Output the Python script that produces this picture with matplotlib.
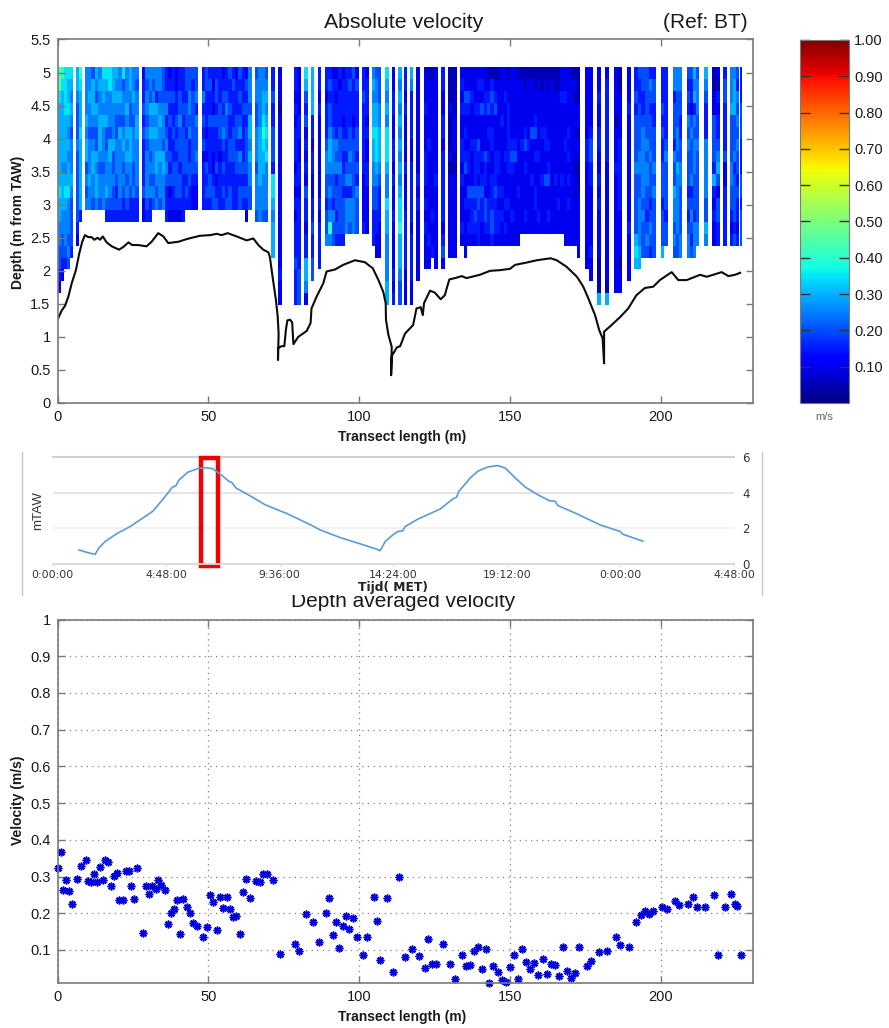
import matplotlib
matplotlib.use("Agg")
import matplotlib.pyplot as plt
import numpy as np
from matplotlib.cm import ScalarMappable
from matplotlib.colors import Normalize

plt.rcParams['font.family'] = ['Liberation Sans', 'DejaVu Sans']

W, H = 889, 1028

# ---- velocity section: runs of ensembles (start m, end m, cells top to bottom, digit x 0.05 m/s)
TOP_DEPTH = 5.08
CELL_HEIGHT = 0.18
LEVEL_STEP = 0.05
RUNS = [
 (0.0, 5.2, ["9976666666766554432", "876666665666554432", "77776666567655543", "76676565667555454", "7656545556544443"]),
 (6.1, 8.1, ["665444544444432", "8766676666663"]),
 (9.0, 26.9, ["555565664545", "556554555655", "466654566554", "654654465665", "565566654554", "766565554555",
              "7655644555643", "7755546655543", "6665556445443", "6565445554343", "5565465555543",
              "7455456545433", "5556565654543", "6654466655433", "5565455544533", "5455665555433"]),
 (28.0, 46.6, ["2334343333422", "5455454555543", "5546565454533", "545656555454", "553656566545", "554565565554",
               "444555466555", "3345345454333", "2343433434232", "3343343344332", "2233434344432", "3344544434432",
               "3334344443333", "443443444343", "445545334433", "434444444322", "445354454322"]),
 (47.8, 64.4, ["335343423333", "443332324343", "343343333443", "323243322344", "344343334234", "333444323333",
               "234345434343", "334544333334", "433433443344", "343334443333", "233344344333", "434345354344",
               "333433334343", "2434344443432", "555466565544"]),
 (65.5, 69.8, ["4554455545554", "5555566666555", "5566787665554", "4565676755554"]),
 (70.8, 72.1, ["3343344437765666"]),
 (73.1, 74.4, ["22212222222222222322"]),
 (78.3, 80.6, ["33232333232323334333", "22223322332333333444"]),
 (81.8, 82.9, ["76434232324332336652"]),
 (84.0, 85.1, ["666633233223343344"]),
 (86.3, 87.4, ["33232222222323333"]),
 (88.6, 99.8, ["332333455443445", "343445665454585", "233334555443544", "232333545344343", "323334445444443",
               "233323433434443", "33333343453555", "34333445453554", "43332344444555", "24333443435444"]),
 (100.9, 103.2, ["33433333322223", "23332322332222"]),
 (104.1, 107.3, ["565667665544333", "4556677765443322", "4445566654333222"]),
 (108.5, 109.8, ["76565777655766555566"]),
 (110.9, 112.0, ["22332233232232222323"]),
 (113.0, 114.1, ["65656565656778666544"]),
 (114.8, 115.9, ["33232222322233333222"]),
 (116.8, 117.9, ["65333322333332333322"]),
 (119.0, 120.2, ["222222222323222222"]),
 (121.4, 126.1, ["22232223332323222", "12222232222222322", "1222222222223223", "22222222232222222"]),
 (127.3, 128.3, ["33223323333332342"]),
 (129.5, 132.3, ["1112111212222222", "1111222112222222"]),
 (133.5, 173.3, ["232322332322232", "2243232342232222", "224322233243232", "223222322243332", "222322333343432",
                 "232322433244333", "232422232343322", "223322243324432", "123423232223332", "134323322333443",
                 "123422233343332", "122222233232332", "222232222232322", "223222232223232", "122333333223222",
                 "222222343222322", "222222342222222", "122222222232222", "12222232222222", "11222342322232",
                 "12222232222222", "12222422232222", "11223423223322", "12222223222232", "11222322232222",
                 "12222332242222", "11222232342232", "12222222222222", "11222222232222", "11222222222322",
                 "22322222232222", "223222322222222", "222223232323222", "122222222222222", "121222221212222",
                 "1112212111222222"]),
 (174.9, 177.6, ["22222233222222222", "222223443322222322"]),
 (178.9, 180.1, ["22322332232322221116"]),
 (181.6, 182.9, ["23333333222222222216"]),
 (184.5, 187.2, ["2222122232222222222", "1122223333332222122"]),
 (188.7, 190.1, ["222322222222232222"]),
 (191.2, 198.3, ["33434444544444676", "43344445544555566", "4433455555545444", "4444445455443454",
                 "3543444544434543", "3443344454544444"]),
 (200.0, 202.4, ["3334343344434446", "333333454444344"]),
 (203.9, 207.0, ["5534443544655454", "5544455465555544", "5544334455444455"]),
 (208.6, 212.6, ["4343545444343455", "4332454445345434", "6563545554443555", "455544544444455"]),
 (214.3, 215.6, ["654333555554465"]),
 (217.0, 219.5, ["112244443632322", "213233456424433"]),
 (220.7, 221.8, ["344333342233333"]),
 (222.9, 225.9, ["555644445544323", "566644453444434", "435454544343323"]),
 (226.3, 226.9, ["333444333443444"]),
]

# ---- bed level
BED_X = [0.2,1.4,2.5,3.6,4.7,6.1,7.2,8.2,9.1,10.2,11.3,12.2,13.3,14.1,15.0,16.3,18.0,20.4,21.8,23.5,24.8,26.8,29.5,31.2,33.4,35.1,36.7,40.1,42.8,47.2,50.6,52.8,54.4,56.4,59.4,62.7,64.9,66.6,68.2,69.9,70.4,71.3,72.4,73.0,73.3,73.1,73.1,74.3,75.2,75.7,76.2,77.1,77.8,78.2,79.8,82.6,83.9,84.2,85.9,88.1,89.2,92.0,94.7,98.6,101.9,104.5,106.4,108.0,108.8,108.9,109.7,110.8,110.6,110.8,112.5,113.6,115.2,117.9,119.0,120.4,121.1,121.5,123.5,125.1,127.0,128.4,129.0,129.9,131.8,134.0,135.6,140.0,143.4,146.7,150.0,151.7,155.0,158.9,163.5,165.5,168.8,172.2,174.3,176.0,178.2,179.6,180.7,181.2,181.2,183.7,186.5,189.2,191.9,194.7,197.5,199.7,203.6,205.8,208.6,213.0,215.2,220.2,222.4,224.6,226.3]
BED_Z = [1.28,1.40,1.47,1.61,1.81,2.01,2.26,2.44,2.54,2.51,2.51,2.47,2.50,2.47,2.52,2.43,2.37,2.32,2.36,2.43,2.39,2.39,2.37,2.44,2.57,2.52,2.42,2.44,2.48,2.53,2.54,2.56,2.54,2.57,2.52,2.46,2.49,2.39,2.32,2.28,2.21,1.91,1.56,1.31,1.05,0.65,0.83,0.86,0.86,1.10,1.25,1.26,1.22,0.89,1.00,1.09,1.21,1.43,1.61,1.81,1.99,2.02,2.09,2.16,2.13,2.04,1.86,1.68,1.51,1.26,1.03,0.85,0.42,0.71,0.84,0.86,1.05,1.18,1.43,1.45,1.33,1.51,1.70,1.67,1.57,1.63,1.73,1.87,1.89,1.92,1.89,1.94,2.00,2.01,2.03,2.09,2.12,2.16,2.19,2.16,2.06,1.91,1.76,1.58,1.33,1.10,0.98,0.60,1.08,1.18,1.30,1.43,1.63,1.74,1.76,1.86,1.98,1.86,1.86,1.94,1.91,1.98,1.92,1.94,1.97]

# ---- tide curve
TIDE_H = [1.12,1.48,1.80,1.95,2.22,2.75,3.28,3.81,4.23,4.65,5.07,5.22,5.33,5.71,6.13,6.45,6.77,7.08,7.46,7.57,7.76,8.14,8.56,8.99,9.94,10.99,11.31,12.16,13.0,13.64,13.85,14.06,14.38,14.59,14.8,14.9,15.43,16.38,16.91,17.08,17.17,17.65,17.97,18.39,18.82,19.13,19.56,19.98,20.51,21.0,21.25,21.35,22.1,23.15,24.0,24.1,24.95]
TIDE_V = [0.79,0.64,0.54,0.88,1.26,1.73,2.10,2.57,2.95,3.60,4.31,4.39,4.69,5.14,5.35,5.40,5.35,5.05,4.63,4.58,4.26,3.98,3.66,3.32,2.81,2.14,1.91,1.48,1.13,0.86,0.75,1.26,1.63,1.82,1.86,2.10,2.51,3.08,3.64,3.75,4.07,4.82,5.2,5.44,5.52,5.38,4.82,4.31,3.88,3.55,3.51,3.28,2.85,2.19,1.82,1.67,1.28]
TIDE_TICKS_H = [0, 4.8, 9.6, 14.4, 19.2, 24.0, 28.8]
TIDE_TICK_LABELS = ["0:00:00", "4:48:00", "9:36:00", "14:24:00", "19:12:00", "0:00:00", "4:48:00"]
WINDOW_H = (6.28, 6.98)

# ---- depth averaged velocity
AVG_X = [0.3,1.3,1.9,2.9,3.9,4.8,6.6,7.7,9.3,10.1,11.1,12.2,13.0,14.0,15.0,15.9,16.9,17.7,18.7,19.8,20.5,21.7,22.7,23.6,24.4,25.5,26.4,28.3,29.4,30.4,31.4,32.5,33.4,34.4,35.5,36.5,37.6,38.6,39.6,40.7,41.7,42.8,43.9,45.0,46.1,48.3,49.6,50.7,51.5,52.8,53.9,54.9,56.1,57.2,58.2,59.3,60.4,61.5,62.6,63.7,65.9,67.0,68.1,69.3,71.4,73.6,78.7,80.0,82.4,84.7,86.7,88.9,90.0,91.2,92.3,93.4,94.5,95.7,96.8,98.0,99.2,101.3,102.5,104.8,105.8,106.9,109.2,111.3,113.3,
         115.1,117.5,119.7,121.7,122.9,124.1,125.5,127.8,130.2,131.7,134.1,135.3,136.7,138.1,139.5,140.7,142.1,143.2,144.5,145.9,147.2,148.7,150.0,151.4,152.5,153.9,155.3,156.7,158.1,159.3,160.8,162.2,163.5,164.8,166.1,167.5,169.0,170.2,171.5,172.9,175.5,176.9,179.5,182.2,185.1,186.5,189.3,191.9,193.3,194.6,196.0,197.3,200.5,201.9,204.7,206.1,209.1,210.6,212.0,214.8,217.6,218.9,221.4,223.3,224.5,225.4,226.5]
AVG_V = [.323,.366,.264,.291,.261,.225,.293,.330,.345,.288,.286,.306,.285,.327,.291,.345,.339,.275,.302,.309,.235,.236,.314,.316,.273,.240,.323,.145,.275,.252,.275,.267,.291,.277,.264,.170,.200,.211,.235,.143,.240,.218,.200,.173,.165,.134,.162,.251,.231,.155,.243,.214,.245,.211,.189,.193,.143,.257,.294,.242,.288,.286,.306,.306,.291,.089,.117,.096,.198,.175,.122,.201,.241,.140,.175,.106,.164,.192,.156,.186,.135,.085,.134,.245,.180,.073,.241,.040,.300,
         .080,.103,.084,.052,.129,.063,.061,.117,.061,.021,.086,.055,.059,.098,.109,.049,.103,.011,.055,.041,.017,.012,.053,.085,.022,.103,.066,.049,.065,.032,.075,.035,.061,.059,.028,.108,.044,.024,.038,.108,.055,.069,.094,.096,.134,.113,.107,.175,.196,.205,.198,.205,.217,.211,.234,.222,.225,.245,.216,.216,.250,.085,.216,.253,.224,.220,.086]

SPINE = '#7a7a7a'
TXT = '#1a1a1a'


def box(l, t, r, b):
    return [l / W, 1 - b / H, (r - l) / W, (b - t) / H]


def style(ax):
    for s in ax.spines.values():
        s.set_color(SPINE)
        s.set_linewidth(1.2)
    ax.tick_params(direction='in', length=5, width=1, color=SPINE, labelcolor=TXT,
                   labelsize=10.5, top=True, right=True, pad=5)


fig = plt.figure(figsize=(W / 100, H / 100), dpi=100)
fig.patch.set_facecolor('white')
norm = Normalize(0, 1)
cmap = plt.get_cmap('jet')

# ---------------- top section
ax = fig.add_axes(box(57.5, 39.5, 752.5, 403))
for x0, x1, cols in RUNS:
    edges = np.linspace(x0, x1, len(cols) + 1)
    for i, col in enumerate(cols):
        vals = np.array([[int(c) * LEVEL_STEP] for c in col])
        z = TOP_DEPTH - CELL_HEIGHT * np.arange(len(col) + 1)
        ax.pcolormesh(edges[i:i + 2], z, vals, cmap=cmap, norm=norm, linewidth=0, antialiased=False)
ax.plot(BED_X, BED_Z, color='#0c0c0c', lw=1.5)
ax.set_xlim(0, 230.4)
ax.set_ylim(0, 5.5)
ax.set_xticks([0, 50, 100, 150, 200])
ax.set_yticks(np.arange(0, 5.51, 0.5))
ax.set_yticklabels(['0', '0.5', '1', '1.5', '2', '2.5', '3', '3.5', '4', '4.5', '5', '5.5'])
style(ax)
fig.text(18 / W, 1 - 222 / H, 'Depth (m from TAW)', rotation=90, ha='center', va='center',
         fontsize=10, fontweight='bold', color=TXT)
fig.text(402 / W, 1 - 437 / H, 'Transect length (m)', ha='center', va='center',
         fontsize=10, fontweight='bold', color=TXT)
fig.text(403.5 / W, 1 - 22.5 / H, 'Absolute velocity', ha='center', va='center', fontsize=15.3, color=TXT)
fig.text(748 / W, 1 - 23 / H, '(Ref: BT)', ha='right', va='center', fontsize=15, color=TXT)

# ---------------- colour bar
cax = fig.add_axes(box(800, 40, 848.5, 403))
cb = fig.colorbar(ScalarMappable(norm=norm, cmap=cmap), cax=cax)
cb.set_ticks(np.arange(0.1, 1.01, 0.1))
cb.set_ticklabels(['%.2f' % v for v in np.arange(0.1, 1.01, 0.1)])
cb.outline.set_edgecolor(SPINE)
cax.yaxis.set_ticks_position('both')
cax.tick_params(direction='in', length=7, width=1, color='#333333', labelleft=False, labelright=True,
                labelsize=10.5, labelcolor=TXT, pad=4)
fig.text(824 / W, 1 - 417 / H, 'm/s', ha='center', va='center', fontsize=8, color='#666666')

# ---------------- bottom scatter
ax3 = fig.add_axes(box(57.5, 619.5, 752.5, 983), zorder=1)
ax3.plot(AVG_X, AVG_V, ls='none', marker=(8, 2, 0), ms=5.6, mew=1.15, color='#0000dc', clip_on=False)
ax3.set_xlim(0, 230.4)
ax3.set_ylim(0.01, 1)
ax3.set_xticks([0, 50, 100, 150, 200])
ax3.set_yticks(np.arange(0.1, 1.01, 0.1))
ax3.set_yticklabels(['0.1', '0.2', '0.3', '0.4', '0.5', '0.6', '0.7', '0.8', '0.9', '1'])
ax3.grid(True, ls=(0, (1, 3.5)), color='#808080', lw=0.9)
ax3.set_axisbelow(True)
style(ax3)
ax3.text(0.497, 1.049, 'Depth averaged velocity', transform=ax3.transAxes, ha='center', va='center',
         fontsize=15, color=TXT)
fig.text(18 / W, 1 - 800 / H, 'Velocity (m/s)', rotation=90, ha='center', va='center',
         fontsize=10, fontweight='bold', color=TXT)
fig.text(402 / W, 1 - 1017 / H, 'Transect length (m)', ha='center', va='center',
         fontsize=10, fontweight='bold', color=TXT)

# ---------------- pasted tide panel, covers the top of the scatter title
panel = fig.add_axes(box(22, 452, 762, 595), zorder=2)
panel.set_xticks([])
panel.set_yticks([])
panel.set_facecolor('white')
for k, s in panel.spines.items():
    s.set_visible(k in ('left', 'right'))
    s.set_color('#c8c8c8')
    s.set_linewidth(1)

ax2 = fig.add_axes(box(52.5, 457, 734, 564), zorder=3)
ax2.patch.set_alpha(0)
for k, s in ax2.spines.items():
    s.set_visible(k == 'bottom')
    s.set_color('#d9d9d9')
    s.set_linewidth(1.3)
ax2.axhline(2, color='#f0f0f0', lw=1.2, zorder=0)
ax2.axhline(4, color='#e4e4e4', lw=1.5, zorder=0)
ax2.axhline(6, color='#d0d0d0', lw=1.5, zorder=0, clip_on=False)
ax2.plot(TIDE_H, TIDE_V, color='#5b9bd5', lw=1.2)
ax2.set_xlim(0, 28.8)
ax2.set_ylim(0, 6)
ax2.set_xticks(TIDE_TICKS_H)
ax2.set_xticklabels(TIDE_TICK_LABELS, fontsize=7.8, family='DejaVu Sans', color='#333333')
ax2.yaxis.tick_right()
ax2.set_yticks([0, 2, 4, 6])
ax2.set_yticklabels(['0', '2', '4', '6'], fontsize=8.5, family='DejaVu Sans', color='#333333')
ax2.tick_params(axis='x', length=1.5, color='#d9d9d9', pad=3)
ax2.tick_params(axis='y', length=0, pad=6)
ax2.axvspan(WINDOW_H[0], WINDOW_H[1], ymin=-0.02, ymax=0.99, fill=False, edgecolor='#f00000', lw=3.2, clip_on=False)
fig.text(393 / W, 1 - 588 / H, 'Tijd( MET)', ha='center', va='center', fontsize=8.8, fontweight='bold',
         family='DejaVu Sans', color='#222222', zorder=5)
fig.text(38 / W, 1 - 511 / H, 'mTAW', rotation=90, ha='center', va='center', fontsize=9.5,
         color='#333333', zorder=5)

fig.savefig('out.png', dpi=100, facecolor='white')
